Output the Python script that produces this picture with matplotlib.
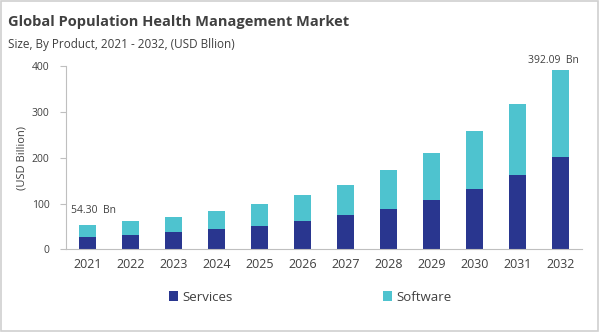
import matplotlib
matplotlib.use("Agg")
import matplotlib.pyplot as plt
from matplotlib.patches import Rectangle

years = ["2021", "2022", "2023", "2024", "2025", "2026",
         "2027", "2028", "2029", "2030", "2031", "2032"]
services = [27.5, 32.5, 38.0, 44.0, 52.0, 62.0, 75.0, 89.0, 108.5, 132.5, 163.0, 202.0]
totals = [54.30, 61.5, 71.0, 84.0, 98.5, 118.0, 141.5, 172.5, 210.5, 258.0, 317.0, 392.09]
software = [t - s for t, s in zip(totals, services)]

plt.rcParams['font.family'] = ['Open Sans', 'DejaVu Sans']
text_col = "#404040"
c_serv = "#29368f"
c_soft = "#4ec3cf"

fig = plt.figure(figsize=(6, 3.32), dpi=100)
ax = fig.add_axes([0.11, 0.2485, 0.86, 0.552])

x = range(len(years))
ax.bar(x, services, width=0.39, color=c_serv, label="Services")
ax.bar(x, software, width=0.39, bottom=services, color=c_soft, label="Software")

ax.set_xlim(-0.5, len(years) - 0.5)
ax.set_ylim(0, 400)
ax.set_yticks([0, 100, 200, 300, 400])
ax.set_xticks(list(x))
ax.set_xticklabels(years)
ax.tick_params(axis='x', length=0, labelsize=9, colors=text_col, pad=6)
ax.tick_params(axis='y', length=4, labelsize=7.5, colors=text_col, color="#bfbfbf", pad=8)
for side in ("top", "right"):
    ax.spines[side].set_visible(False)
for side in ("left", "bottom"):
    ax.spines[side].set_color("#bfbfbf")
    ax.spines[side].set_linewidth(0.8)

ax.set_ylabel("(USD Billion)", fontsize=8, color=text_col, labelpad=3)

# value callouts on first and last bars
ax.annotate(f"{totals[0]:.2f}  Bn", (0, totals[0]), xytext=(4, 6),
            textcoords="offset points", ha="center", va="bottom",
            fontsize=7.5, color=text_col)
ax.annotate(f"{totals[-1]:.2f}  Bn", (len(years) - 1, totals[-1]), xytext=(-5, 3),
            textcoords="offset points", ha="center", va="bottom",
            fontsize=7.5, color=text_col)

fig.text(0.014, 0.935, "Global Population Health Management Market",
         fontsize=10.5, fontweight="bold", color=text_col, va="center")
fig.text(0.014, 0.865, "Size, By Product, 2021 - 2032, (USD Bllion)",
         fontsize=8.5, color=text_col, va="center")

handles, labels = ax.get_legend_handles_labels()
fig.legend([handles[0]], [labels[0]], loc="center", bbox_to_anchor=(0.335, 0.105),
           frameon=False, fontsize=9.5, handlelength=0.7, handleheight=0.7,
           handletextpad=0.3, labelcolor=text_col)
fig.legend([handles[1]], [labels[1]], loc="center", bbox_to_anchor=(0.695, 0.105),
           frameon=False, fontsize=9.5, handlelength=0.7, handleheight=0.7,
           handletextpad=0.3, labelcolor=text_col)

fig.patches.append(Rectangle((0.002, 0.003), 0.995, 0.993, transform=fig.transFigure,
                             fill=False, edgecolor="#d0d0d0", linewidth=1.2))

fig.savefig("out.png", dpi=100)
